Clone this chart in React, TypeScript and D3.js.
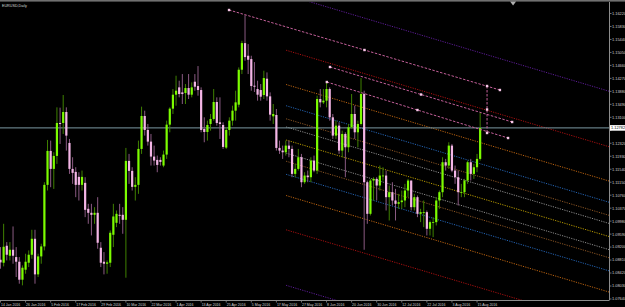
import React from "react";
import * as d3 from "d3";

// ---- Data: EURUSD Daily, 14 Jan 2016 .. 16 Aug 2016 (one entry per trading day)
const opens = [
  1.0882, 1.0873, 1.0924, 1.0894, 1.0912, 1.089, 1.0876, 1.0822, 1.0852, 1.0873,
  1.0897, 1.0945, 1.0838, 1.0892, 1.0922, 1.1107, 1.1209, 1.1155, 1.1194, 1.1293,
  1.1293, 1.1326, 1.1233, 1.1155, 1.1146, 1.1131, 1.1107, 1.1113, 1.1035, 1.1023,
  1.1017, 1.1023, 1.0918, 1.0876, 1.087, 1.0873, 1.0957, 1.0993, 1.1017, 1.1017,
  1.1002, 1.1179, 1.1149, 1.1101, 1.1107, 1.1215, 1.1314, 1.1272, 1.1237, 1.1192,
  1.1182, 1.1182, 1.1165, 1.1198, 1.1288, 1.1336, 1.1378, 1.14, 1.1385, 1.1383,
  1.1398, 1.1378, 1.1417, 1.1404, 1.1392, 1.1275, 1.1266, 1.129, 1.1305, 1.1356,
  1.1295, 1.1287, 1.1219, 1.1272, 1.13, 1.133, 1.1348, 1.1453, 1.1533, 1.1495,
  1.1485, 1.1405, 1.1395, 1.1392, 1.1377, 1.1426, 1.1373, 1.1313, 1.1317, 1.1218,
  1.121, 1.1205, 1.1225, 1.1215, 1.114, 1.1155, 1.119, 1.1115, 1.1135, 1.113,
  1.118, 1.115, 1.1365, 1.1355, 1.136, 1.1395, 1.131, 1.1255, 1.1285, 1.121,
  1.126, 1.122, 1.128, 1.132, 1.1265, 1.129, 1.138, 1.1115, 1.102, 1.112,
  1.1125, 1.1105, 1.1135, 1.1135, 1.107, 1.1085, 1.106, 1.105, 1.1055, 1.106,
  1.109, 1.112, 1.104, 1.107, 1.102, 1.1025, 1.1025, 1.0975, 1.0995, 1.0995,
  1.106, 1.1085, 1.1175, 1.1165, 1.1225, 1.115, 1.113, 1.1085, 1.1085, 1.112,
  1.1175, 1.114, 1.116, 1.1185,
];
const highs = [
  1.092, 1.099, 1.0935, 1.0935, 1.0982, 1.092, 1.089, 1.0865, 1.09, 1.091,
  1.0972, 1.0972, 1.09, 1.093, 1.1115, 1.1242, 1.124, 1.1205, 1.134, 1.1339,
  1.1377, 1.134, 1.1245, 1.119, 1.116, 1.1145, 1.115, 1.113, 1.105, 1.105,
  1.104, 1.107, 1.0935, 1.0905, 1.088, 1.097, 1.105, 1.103, 1.105, 1.104,
  1.1218, 1.12, 1.116, 1.113, 1.124, 1.1342, 1.133, 1.129, 1.126, 1.1225,
  1.1195, 1.119, 1.121, 1.13, 1.134, 1.1395, 1.1435, 1.142, 1.144, 1.141,
  1.144, 1.1415, 1.144, 1.1464, 1.14, 1.131, 1.13, 1.132, 1.1395, 1.137,
  1.137, 1.1295, 1.128, 1.131, 1.1345, 1.139, 1.146, 1.154, 1.1617, 1.153,
  1.1495, 1.1476, 1.142, 1.141, 1.145, 1.1445, 1.1385, 1.135, 1.1335, 1.124,
  1.1225, 1.124, 1.124, 1.1225, 1.117, 1.1215, 1.12, 1.1145, 1.115, 1.119,
  1.1195, 1.1375, 1.1395, 1.1395, 1.1415, 1.14, 1.132, 1.13, 1.1295, 1.127,
  1.1265, 1.129, 1.138, 1.1345, 1.13, 1.1428, 1.139, 1.112, 1.1125, 1.113,
  1.113, 1.1165, 1.116, 1.115, 1.1105, 1.1115, 1.1095, 1.108, 1.109, 1.111,
  1.1125, 1.112, 1.108, 1.1075, 1.1035, 1.106, 1.103, 1.1, 1.101, 1.107,
  1.109, 1.119, 1.1185, 1.1235, 1.123, 1.1165, 1.115, 1.111, 1.1125, 1.118,
  1.1185, 1.117, 1.12, 1.1323,
];
const lows = [
  1.0855, 1.0862, 1.088, 1.088, 1.087, 1.083, 1.081, 1.0805, 1.084, 1.086,
  1.0885, 1.081, 1.083, 1.087, 1.091, 1.109, 1.11, 1.1095, 1.117, 1.123,
  1.126, 1.121, 1.114, 1.111, 1.107, 1.106, 1.109, 1.101, 1.099, 1.0955,
  1.099, 1.0915, 1.086, 1.0838, 1.084, 1.086, 1.092, 1.098, 1.099, 1.096,
  1.0828, 1.111, 1.109, 1.106, 1.108, 1.12, 1.1255, 1.1225, 1.1165, 1.1165,
  1.1145, 1.1165, 1.116, 1.1185, 1.1265, 1.132, 1.1345, 1.137, 1.135, 1.135,
  1.1365, 1.137, 1.139, 1.1375, 1.1265, 1.1235, 1.124, 1.127, 1.13, 1.1285,
  1.1245, 1.1215, 1.1215, 1.1255, 1.1285, 1.13, 1.134, 1.144, 1.148, 1.144,
  1.139, 1.1386, 1.136, 1.136, 1.1365, 1.136, 1.13, 1.129, 1.121, 1.12,
  1.1185, 1.1195, 1.119, 1.113, 1.113, 1.115, 1.11, 1.111, 1.1115, 1.1115,
  1.1145, 1.114, 1.134, 1.135, 1.134, 1.13, 1.1245, 1.1245, 1.12, 1.119,
  1.113, 1.1205, 1.1275, 1.1245, 1.122, 1.1285, 1.0912, 1.099, 1.1015, 1.106,
  1.106, 1.109, 1.112, 1.103, 1.1, 1.1045, 1.1, 1.1035, 1.1035, 1.104,
  1.107, 1.103, 1.103, 1.101, 1.0995, 1.098, 1.0955, 1.0955, 1.095, 1.0985,
  1.1035, 1.107, 1.115, 1.1155, 1.1145, 1.111, 1.1045, 1.107, 1.107, 1.111,
  1.112, 1.1125, 1.1145, 1.118,
];
const closes = [
  1.0874, 1.0921, 1.0897, 1.0912, 1.0894, 1.0876, 1.0822, 1.0858, 1.0876, 1.0897,
  1.0945, 1.0838, 1.0892, 1.0922, 1.1107, 1.1209, 1.1155, 1.1194, 1.1293, 1.129,
  1.1326, 1.1255, 1.1155, 1.1143, 1.1107, 1.1107, 1.1131, 1.1032, 1.1023, 1.1017,
  1.1023, 1.0933, 1.0873, 1.087, 1.0874, 1.0963, 1.1012, 1.102, 1.1014, 1.1002,
  1.1179, 1.1149, 1.1101, 1.1107, 1.1215, 1.1314, 1.1272, 1.1237, 1.1192, 1.118,
  1.1167, 1.1176, 1.1198, 1.1288, 1.1336, 1.1378, 1.139, 1.138, 1.138, 1.1398,
  1.1378, 1.14, 1.1402, 1.1392, 1.1272, 1.1266, 1.1287, 1.1305, 1.1356, 1.1293,
  1.129, 1.1221, 1.1272, 1.13, 1.133, 1.1355, 1.1453, 1.1533, 1.1491, 1.1483,
  1.1404, 1.1402, 1.1378, 1.1372, 1.1428, 1.1373, 1.1318, 1.132, 1.1218, 1.121,
  1.1205, 1.1225, 1.1215, 1.114, 1.1155, 1.119, 1.1115, 1.1135, 1.113, 1.118,
  1.115, 1.1365, 1.1355, 1.136, 1.1395, 1.131, 1.1255, 1.1285, 1.121, 1.126,
  1.122, 1.128, 1.132, 1.1265, 1.129, 1.138, 1.1115, 1.102, 1.112, 1.1125,
  1.1105, 1.1135, 1.1135, 1.107, 1.1085, 1.106, 1.105, 1.1055, 1.106, 1.109,
  1.112, 1.104, 1.107, 1.102, 1.1025, 1.1025, 1.0975, 1.0995, 1.0995, 1.106,
  1.1085, 1.1175, 1.1165, 1.1225, 1.115, 1.113, 1.1085, 1.1085, 1.112, 1.1175,
  1.114, 1.116, 1.1185, 1.1278,
];

const dateTickLabels = [
  "14 Jan 2016", "26 Jan 2016", "5 Feb 2016", "17 Feb 2016", "29 Feb 2016",
  "10 Mar 2016", "22 Mar 2016", "1 Apr 2016", "13 Apr 2016", "25 Apr 2016",
  "5 May 2016", "17 May 2016", "27 May 2016", "8 Jun 2016", "20 Jun 2016",
  "30 Jun 2016", "12 Jul 2016", "22 Jul 2016", "3 Aug 2016", "15 Aug 2016",
];
const dateTickBars = [0, 8, 16, 24, 32, 40, 48, 56, 64, 72, 80, 88, 96, 104, 112, 120, 128, 136, 144, 152];

const priceTicks = [
  1.1622, 1.1583, 1.1544, 1.1505, 1.1466, 1.1427, 1.1388, 1.1349, 1.131, 1.1271,
  1.1232, 1.1193, 1.1154, 1.1115, 1.1076, 1.1037, 1.0998, 1.0959, 1.092, 1.0881,
  1.0842, 1.0803, 1.0764,
];
const currentPrice = 1.12782;
const currentPriceLabel = "1.12782";

// Hand-drawn trendlines (bar index, price)
const trendlines = [
  { b1: 72.9, p1: 1.16325, b2: 159.3, p2: 1.13921 },
  { b1: 105.1, p1: 1.14612, b2: 163.2, p2: 1.12959 },
  { b1: 104.1, p1: 1.14161, b2: 161.9, p2: 1.12478 },
  { b1: 155.2, p1: 1.14041, b2: 155.2, p2: 1.12629 },
];

// Fibonacci channel
const fiboAnchor = { b1: 91.1, p1: 1.12418, b2: 200, p2: 1.12418 - 108.9 * 0.0002816 };
const fiboUnit = 0.01668;
const fiboLevels = [2.618, 1.618, 1, 0.618, 0.382, 0.236, 0, -0.236, -0.382, -0.618, -1, -1.618, -2.618];
const fiboColors: Record<string, string> = {
  "0": "#b89a00",
  "0.236": "#8c8c8c",
  "0.382": "#8c5624",
  "0.618": "#2464b4",
  "1": "#bc6410",
  "1.618": "#a81010",
  "2.618": "#5c1c96",
};

const W = 625;
const H = 307;
const PLOT = { left: 0, right: 609, top: 2, bottom: 300 };

export default function App() {
  const x = d3.scaleLinear().domain([0, 153]).range([0.5, 0.5 + 153 * 3.135]);
  const y = d3.scaleLinear().domain([1.0764, 1.1622]).range([299, 13.5]);
  const font = "'Liberation Sans', Arial, sans-serif";
  const line = d3.line<[number, number]>().x((d) => x(d[0])).y((d) => y(d[1]));
  const yCur = y(currentPrice);

  const candles = opens.map((o, i) => {
    const c = closes[i];
    const up = c >= o;
    const cx = x(i);
    const yTop = y(Math.max(o, c));
    const yBot = y(Math.min(o, c));
    return (
      <g key={i}>
        <line x1={cx} x2={cx} y1={y(highs[i])} y2={y(lows[i])} stroke={up ? "#3f8000" : "#8a5a82"} strokeWidth={1} />
        <rect x={cx - 1.1} width={2.2} y={yTop} height={Math.max(0.8, yBot - yTop)} fill={up ? "#7cfc00" : "#f4b6e6"} />
      </g>
    );
  });

  return (
    <svg width={W} height={H} style={{ position: "absolute", left: 0, top: 0, background: "#000" }}>
      <defs>
        <clipPath id="plot">
          <rect x={PLOT.left} y={PLOT.top} width={PLOT.right - PLOT.left} height={PLOT.bottom - PLOT.top} />
        </clipPath>
      </defs>
      <rect x={0} y={0} width={W} height={H} fill="#000" />
      <rect x={0} y={0} width={W} height={1.6} fill="#707070" />

      <g clipPath="url(#plot)">
        {/* Fibonacci channel */}
        {fiboLevels.map((L) => {
          const off = L * fiboUnit;
          return (
            <path
              key={L}
              d={line([[fiboAnchor.b1, fiboAnchor.p1 + off], [fiboAnchor.b2, fiboAnchor.p2 + off]]) || ""}
              stroke={fiboColors[String(Math.abs(L))]}
              strokeWidth={1}
              strokeDasharray="1.2,1.2"
              fill="none"
            />
          );
        })}

        {/* current price line */}
        <line x1={PLOT.left} x2={PLOT.right} y1={yCur} y2={yCur} stroke="#7c9aa4" strokeWidth={1} />

        {candles}

        {/* trendlines */}
        {trendlines.map((t, k) => (
          <path
            key={k}
            d={line([[t.b1, t.p1], [t.b2, t.p2]]) || ""}
            stroke="#c4609a"
            strokeWidth={1}
            strokeDasharray="2.5,1.5"
            fill="none"
          />
        ))}
        {trendlines.map((t, k) =>
          [[t.b1, t.p1], [(t.b1 + t.b2) / 2, (t.p1 + t.p2) / 2], [t.b2, t.p2]].map((p, j) => (
            <rect key={`${k}-${j}`} x={x(p[0]) - 1.2} y={y(p[1]) - 1.2} width={2.4} height={2.4} fill="#f8c8e8" />
          ))
        )}
      </g>

      {/* chart shift marker */}
      <path d={`M${x(163.5) - 3},1.5 L${x(163.5) + 3},1.5 L${x(163.5)},5.5 Z`} fill="#b0b0b0" />

      {/* title */}
      <text x={2} y={6.8} fontSize={3.7} fill="#d8d8d8" fontFamily={font}>EURUSD,Daily</text>

      {/* axes */}
      <line x1={PLOT.right + 0.5} x2={PLOT.right + 0.5} y1={PLOT.top} y2={PLOT.bottom} stroke="#8c8c8c" strokeWidth={1} />
      <line x1={PLOT.left} x2={PLOT.right + 0.5} y1={PLOT.bottom + 0.5} y2={PLOT.bottom + 0.5} stroke="#8c8c8c" strokeWidth={1} />

      {priceTicks.map((p) => (
        <g key={p}>
          <line x1={PLOT.right + 0.5} x2={PLOT.right + 2.5} y1={y(p)} y2={y(p)} stroke="#8c8c8c" strokeWidth={0.8} />
          {Math.abs(y(p) - yCur) > 5 && (
            <text x={612} y={y(p) + 1.4} fontSize={3.9} fill="#d0d0d0" fontFamily={font}>
              {p.toFixed(5)}
            </text>
          )}
        </g>
      ))}

      {/* current price label (covers the tick label beneath it) */}
      <rect x={PLOT.right + 1} y={yCur - 2.8} width={15} height={5.6} fill="#ffffff" />
      <text x={611} y={yCur + 1.4} fontSize={3.9} fill="#000" fontFamily={font}>{currentPriceLabel}</text>

      {dateTickBars.map((b, k) => (
        <g key={b}>
          <line x1={x(b)} x2={x(b)} y1={PLOT.bottom + 0.5} y2={PLOT.bottom + 2.5} stroke="#8c8c8c" strokeWidth={0.8} />
          <text x={x(b) + 0.5} y={305.8} fontSize={3.5} fill="#d0d0d0" fontFamily={font}>
            {dateTickLabels[k]}
          </text>
        </g>
      ))}
    </svg>
  );
}
